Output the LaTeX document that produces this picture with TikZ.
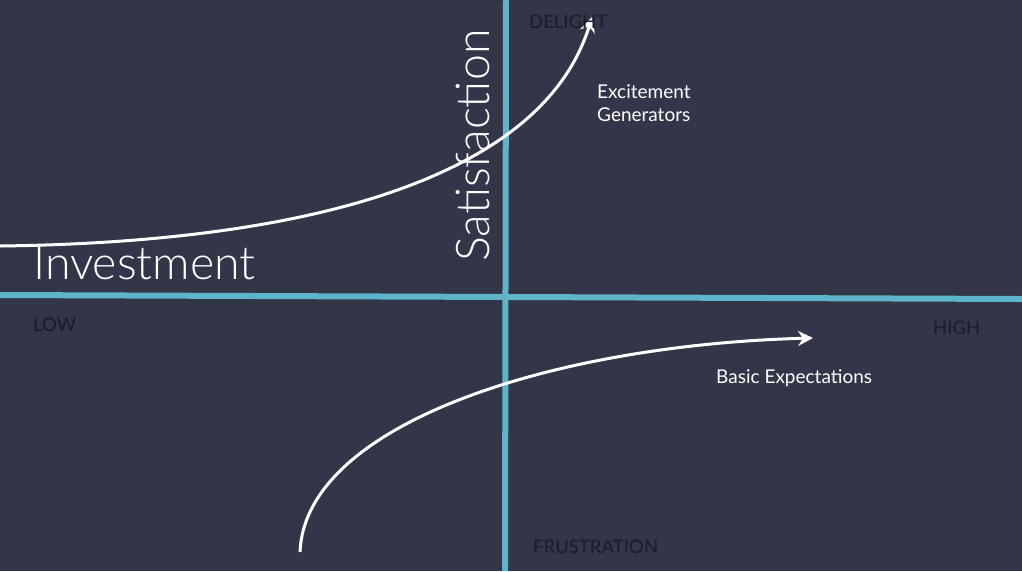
\documentclass[tikz,border=0pt]{standalone}
\usepackage{fontspec}
\setmainfont{Lato}
\newfontfamily\latolight{Lato Light}
\newfontfamily\latomedium{Lato Medium}
\usetikzlibrary{arrows.meta}
\definecolor{bgblue}{HTML}{333549}
\definecolor{axisblue}{HTML}{5EB5CA}
\definecolor{darklabel}{HTML}{1B1D2C}
\begin{document}
\begin{tikzpicture}[x=1pt,y=-1pt,
        axisline/.style={draw=axisblue, line width=6pt},
        trend/.style={draw=white, line width=3pt, -{Stealth[length=15pt,width=15pt,inset=5pt]}},
        corner/.style={text=darklabel, anchor=west, inner sep=0pt, font=\latomedium\fontsize{18.5}{20}\selectfont},
        caption/.style={text=white, anchor=west, inner sep=0pt, align=left, font=\fontsize{19}{23}\selectfont},
        title/.style={text=white, inner sep=0pt, font=\latolight\fontsize{46.5}{50}\selectfont}]
        \fill[bgblue] (0,0) rectangle (1022,571);
        \useasboundingbox (0,0) rectangle (1022,571);
        % axes
        \coordinate (west) at (0,295);
        \coordinate (east) at (1022,299);
        \coordinate (north) at (506,0);
        \coordinate (south) at (505,571);
        \draw[axisline] (west) -- (east);
        \draw[axisline] (north) -- (south);
        % curves
        \coordinate (exStart) at (0,246);
        \coordinate (exEnd) at (592,17);
        \coordinate (baStart) at (300,552);
        \coordinate (baEnd) at (813,338);
        \draw[trend] (exStart) .. controls (330,242) and (545,170) .. (exEnd);
        \draw[trend] (baStart) .. controls (305,425) and (550,345) .. (baEnd);
        % labels
        \node[title, anchor=base west] (invest) at (33,279) {Investment};
        \node[title, anchor=base west, rotate=90] (satis) at (489,262) {Satisfaction};
        \node[corner] (low) at (33,325) {LOW};
        \node[corner] (high) at (933,328) {HIGH};
        \node[corner] (delight) at (529,22) {DELIGHT};
        \node[corner] (frust) at (533,547) {FRUSTRATION};
        \node[caption] (excite) at (597,103) {Excitement\\Generators};
        \node[caption] (basic) at (716,378) {Basic Expectations};
\end{tikzpicture}
\end{document}
